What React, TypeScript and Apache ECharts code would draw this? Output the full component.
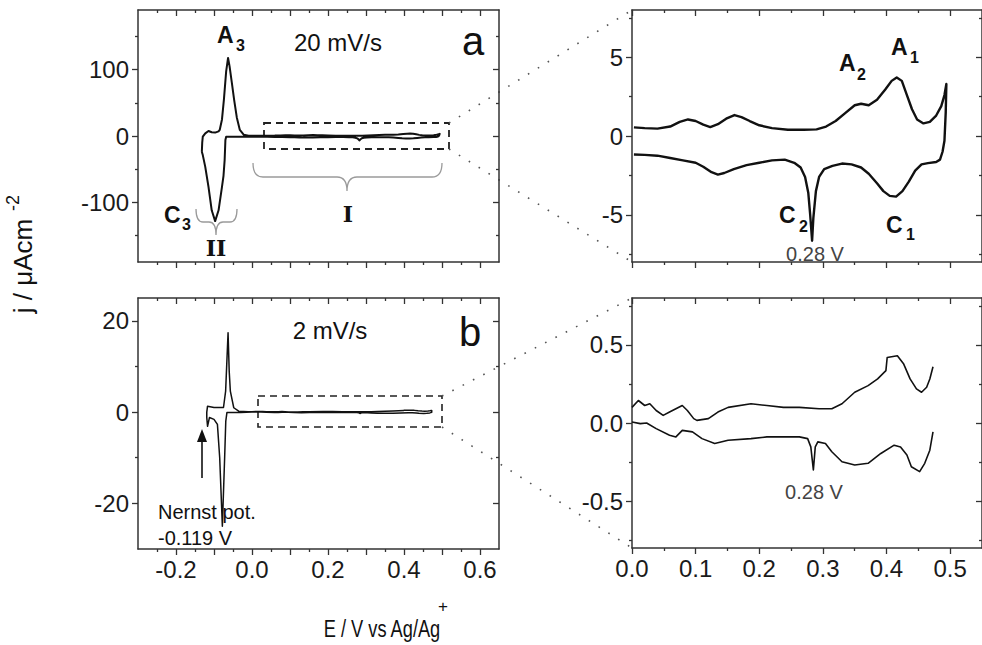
import React, { useEffect, useRef } from 'react';
import * as echarts from 'echarts';

// ---------- data (E / V, j / µA cm^-2) ----------
// panel a, 20 mV/s: parts of the CV outside the zoomed window (E < 0)
const A20_ANODIC_LEFT: number[][] = [
  [-0.132, -23.7], [-0.131, -10], [-0.1295, -1], [-0.123, 4.0], [-0.1145, 7.6], [-0.106, 5.6],
  [-0.097, 5.1], [-0.088, 7.0], [-0.085, 9.1], [-0.079, 25], [-0.074, 54.5], [-0.068, 97.5], [-0.063, 117.7],
  [-0.059, 105], [-0.053, 80], [-0.047, 54.5], [-0.040, 28], [-0.032, 9.1], [-0.022, 2.0], [-0.009, 0.3],
];
const A20_CATHODIC_LEFT: number[][] = [
  [-0.02, -1.0], [-0.068, -1.0], [-0.070, -6], [-0.072, -36.4], [-0.075, -60], [-0.079, -76.8], [-0.088, -112],
  [-0.097, -128.3], [-0.106, -112], [-0.1145, -76.8], [-0.123, -46.5], [-0.1295, -28.8], [-0.132, -23.7],
];
// panel a zoom (0 .. 0.5 V), 20 mV/s
const C20_ANODIC: number[][] = [
  [0.003, 0.55], [0.02, 0.5], [0.04, 0.47], [0.06, 0.6], [0.075, 0.9], [0.088, 1.05], [0.1, 0.95],
  [0.112, 0.72], [0.123, 0.57], [0.135, 0.75], [0.148, 1.1], [0.161, 1.33], [0.172, 1.2], [0.185, 0.95],
  [0.2, 0.68], [0.22, 0.5], [0.245, 0.4], [0.27, 0.4], [0.29, 0.42], [0.305, 0.6], [0.32, 0.95],
  [0.335, 1.45], [0.35, 1.95], [0.36, 2.05], [0.372, 1.95], [0.385, 2.3], [0.398, 2.95], [0.408, 3.5],
  [0.416, 3.72], [0.424, 3.5], [0.432, 2.6], [0.44, 1.7], [0.448, 1.05], [0.458, 0.8], [0.468, 0.9],
  [0.478, 1.3], [0.486, 1.9], [0.491, 2.6], [0.494, 3.3],
];
const C20_CATHODIC: number[][] = [
  [0.493, 1.5], [0.491, -0.3], [0.488, -1.0], [0.484, -1.5], [0.478, -1.65], [0.465, -1.72],
  [0.455, -1.8], [0.445, -2.2], [0.435, -2.9], [0.425, -3.5], [0.415, -3.85], [0.405, -3.8],
  [0.395, -3.5], [0.385, -3.0], [0.372, -2.4], [0.36, -2.0], [0.345, -1.8], [0.33, -1.75],
  [0.315, -1.9], [0.302, -2.1], [0.294, -2.6], [0.289, -3.5], [0.285, -5.2], [0.283, -6.65],
  [0.280, -5.0], [0.277, -3.6], [0.272, -2.6], [0.265, -2.0], [0.255, -1.7], [0.24, -1.5],
  [0.22, -1.55], [0.2, -1.7], [0.18, -1.85], [0.16, -2.1], [0.145, -2.35], [0.135, -2.45],
  [0.125, -2.3], [0.112, -1.95], [0.1, -1.7], [0.08, -1.55], [0.06, -1.4], [0.04, -1.25],
  [0.02, -1.2], [0.003, -1.17],
];
// panel b, 2 mV/s: parts outside the zoomed window
const B2_ANODIC_LEFT: number[][] = [
  [-0.119, 0.0], [-0.117, 1.3], [-0.100, 1.0], [-0.080, 1.0], [-0.075, 1.0], [-0.0694, 4.6],
  [-0.063, 17.4], [-0.060, 9.0], [-0.057, 4.6], [-0.048, 0.95], [-0.035, 0.2], [-0.01, 0.1],
];
const B2_CATHODIC_LEFT: number[][] = [
  [-0.03, -0.1], [-0.066, -0.1], [-0.069, -2], [-0.072, -10], [-0.078, -25], [-0.085, -10],
  [-0.091, -2.7], [-0.100, -1.6], [-0.112, -1.2], [-0.117, -3.1], [-0.119, -1.2], [-0.119, 0.0],
];
// panel b zoom, 2 mV/s
const D2_ANODIC: number[][] = [
  [0.0, 0.10], [0.010, 0.144], [0.020, 0.112], [0.028, 0.123], [0.038, 0.08], [0.049, 0.049],
  [0.059, 0.07], [0.069, 0.091], [0.079, 0.112], [0.087, 0.08], [0.097, 0.028], [0.102, 0.017],
  [0.120, 0.028], [0.135, 0.07], [0.151, 0.10], [0.187, 0.123], [0.212, 0.112], [0.238, 0.10],
  [0.263, 0.10], [0.294, 0.091], [0.314, 0.091], [0.330, 0.123], [0.350, 0.197], [0.371, 0.239],
  [0.386, 0.282], [0.399, 0.335], [0.401, 0.419], [0.417, 0.430], [0.427, 0.377], [0.437, 0.282],
  [0.447, 0.218], [0.455, 0.197], [0.463, 0.229], [0.468, 0.282], [0.473, 0.36],
];
const D2_CATHODIC: number[][] = [
  [0.0, 0.006], [0.013, -0.004], [0.023, 0.0], [0.038, -0.036], [0.059, -0.078], [0.069, -0.089],
  [0.079, -0.047], [0.095, -0.057], [0.110, -0.10], [0.130, -0.131], [0.151, -0.11], [0.187, -0.10],
  [0.212, -0.089], [0.263, -0.089], [0.276, -0.10], [0.281, -0.153], [0.285, -0.301], [0.288, -0.153],
  [0.292, -0.121], [0.304, -0.131], [0.314, -0.184], [0.330, -0.248], [0.350, -0.269], [0.371, -0.258],
  [0.391, -0.195], [0.412, -0.142], [0.422, -0.153], [0.432, -0.205], [0.439, -0.28], [0.452, -0.311],
  [0.460, -0.258], [0.468, -0.174], [0.473, -0.057],
];

// ---------- ticks ----------
const LEFT_X_LABELS = [-0.2, 0.0, 0.2, 0.4, 0.6];
const LEFT_X_MAJOR = [-0.2, -0.1, 0.0, 0.1, 0.2, 0.3, 0.4, 0.5, 0.6];
const LEFT_X_MINOR = [-0.25, -0.15, -0.05, 0.05, 0.15, 0.25, 0.35, 0.45, 0.55];
const RIGHT_X_LABELS = [0.0, 0.1, 0.2, 0.3, 0.4, 0.5];
const RIGHT_X_MINOR = [0.05, 0.15, 0.25, 0.35, 0.45];
const A_Y_LABELS = [-100, 0, 100];
const A_Y_MINOR = [-150, -50, 50, 150];
const B_Y_LABELS = [-20, 0, 20];
const B_Y_MINOR = [-10, 10];
const C_Y_LABELS = [-5, 0, 5];
const C_Y_MINOR = [-7.5, -2.5, 2.5, 7.5];
const D_Y_LABELS = [-0.5, 0.0, 0.5];
const D_Y_MINOR = [-0.75, -0.25, 0.25, 0.75];

const FONT = 'Liberation Sans, Arial, Helvetica, sans-serif';
const SERIF = 'DejaVu Serif, serif';
const AX = '#333';

function axisSet(dim: 'x' | 'y', grid: number, min: number, max: number,
  majors: number[], minors: number[], labels: number[] | null, fmt: (v: number) => string) {
  const base: any = {
    type: 'value', gridIndex: grid, min, max,
    splitLine: { show: false },
    axisLine: { show: true, onZero: false, lineStyle: { color: AX, width: 1.5 } },
  };
  const pMain = dim === 'x' ? 'bottom' : 'left';
  const pMir = dim === 'x' ? 'top' : 'right';
  const tick = (vals: number[], inside: boolean, len: number) => ({
    show: true, inside, length: len, customValues: vals, lineStyle: { color: AX, width: 1.3 },
  });
  return [
    {
      ...base, position: pMain, axisTick: tick(majors, false, 6),
      axisLabel: labels ? {
        show: true, customValues: labels, formatter: (v: number) => fmt(v),
        fontSize: 24, color: '#1a1a1a', fontFamily: FONT, margin: dim === 'x' ? 8 : 9,
      } : { show: false },
    },
    { ...base, position: pMain, axisLine: { show: false, onZero: false }, axisTick: tick(minors, false, 3), axisLabel: { show: false } },
    { ...base, position: pMir, axisTick: tick(majors, true, 6), axisLabel: { show: false } },
    { ...base, position: pMir, axisLine: { show: false, onZero: false }, axisTick: tick(minors, true, 3), axisLabel: { show: false } },
  ];
}

const f1 = (v: number) => v.toFixed(1);
const f0 = (v: number) => String(Math.round(v));

echarts.graphic.registerShape('braceI', echarts.graphic.extendPath(
  'M253,163 Q253,177 263,177 L337,177 Q347,177 347,191 Q347,177 357,177 L432,177 Q442,177 442,163', {}));
echarts.graphic.registerShape('braceII', echarts.graphic.extendPath(
  'M196,209 Q196,222 203,222 L209,222 Q216,222 216,235 Q216,222 223,222 L230,222 Q237,222 237,209', {}));

function txt(text: string, x: number, y: number, size: number, opts: any = {}) {
  return {
    type: 'text', x, y, rotation: opts.rotation || 0, scaleX: opts.scaleX || 1, z: 10,
    style: {
      text, fontSize: size, fontFamily: opts.family || FONT, fontWeight: opts.bold ? 'bold' : 'normal',
      fill: opts.color || '#111', align: opts.align || 'center', verticalAlign: 'middle',
    },
  };
}

export default function App() {
  const ref = useRef<HTMLDivElement>(null);
  useEffect(() => {
    if (!ref.current) return;
    const chart = echarts.init(ref.current, null, { renderer: 'svg' });
    const grids = [
      { left: 138, top: 10, width: 361, height: 252 },
      { left: 138, top: 298, width: 361, height: 251 },
      { left: 632, top: 10, width: 358, height: 252 },
      { left: 632, top: 298, width: 358, height: 250 },
    ];
    const xAxis = [
      ...axisSet('x', 0, -0.3, 0.65, LEFT_X_MAJOR, LEFT_X_MINOR, null, f1),
      ...axisSet('x', 1, -0.3, 0.65, LEFT_X_MAJOR, LEFT_X_MINOR, LEFT_X_LABELS, f1),
      ...axisSet('x', 2, 0, 0.55, RIGHT_X_LABELS, RIGHT_X_MINOR, null, f1),
      ...axisSet('x', 3, 0, 0.55, RIGHT_X_LABELS, RIGHT_X_MINOR, RIGHT_X_LABELS, f1),
    ];
    const yAxis = [
      ...axisSet('y', 0, -190, 190, A_Y_LABELS, A_Y_MINOR, A_Y_LABELS, f0),
      ...axisSet('y', 1, -30, 25, B_Y_LABELS, B_Y_MINOR, B_Y_LABELS, f0),
      ...axisSet('y', 2, -8, 8, C_Y_LABELS, C_Y_MINOR, C_Y_LABELS, f0),
      ...axisSet('y', 3, -0.8, 0.8, D_Y_LABELS, D_Y_MINOR, D_Y_LABELS, f1),
    ];
    const line = (g: number, data: number[][], w: number) => ({
      type: 'line', xAxisIndex: 4 * g, yAxisIndex: 4 * g, data, showSymbol: false, symbol: 'none',
      lineStyle: { color: '#111', width: w, join: 'round' }, silent: true,
    });
    const loopA = [...A20_ANODIC_LEFT, ...C20_ANODIC, ...C20_CATHODIC, ...A20_CATHODIC_LEFT];
    const loopB = [...B2_ANODIC_LEFT, ...D2_ANODIC, ...D2_CATHODIC.slice().reverse(), ...B2_CATHODIC_LEFT];
    const series = [
      line(0, loopA, 2),
      line(1, loopB, 1.5),
      line(2, [...C20_ANODIC, ...C20_CATHODIC], 2.4),
      line(3, D2_ANODIC, 1.6),
      line(3, D2_CATHODIC, 1.6),
    ];
    const dotted = { stroke: '#555', lineWidth: 1.6, lineDash: [1.6, 10] };
    const graphic = [
      // dashed zoom windows
      { type: 'rect', shape: { x: 264, y: 123, width: 185, height: 26 }, style: { fill: 'none', stroke: '#222', lineWidth: 1.8, lineDash: [7, 5] } },
      { type: 'rect', shape: { x: 258, y: 396, width: 184, height: 31 }, style: { fill: 'none', stroke: '#222', lineWidth: 1.6, lineDash: [7, 5] } },
      { type: 'line', shape: { x1: 449, y1: 123, x2: 632, y2: 10 }, style: dotted },
      { type: 'line', shape: { x1: 449, y1: 149, x2: 632, y2: 262 }, style: dotted },
      { type: 'line', shape: { x1: 442, y1: 396, x2: 632, y2: 298 }, style: dotted },
      { type: 'line', shape: { x1: 442, y1: 427, x2: 632, y2: 548 }, style: dotted },
      // braces
      { type: 'braceI', style: { fill: 'none', stroke: '#9a9a9a', lineWidth: 1.3 } },
      { type: 'braceII', style: { fill: 'none', stroke: '#9a9a9a', lineWidth: 1.3 } },
      // arrow
      { type: 'line', shape: { x1: 202, y1: 478, x2: 202, y2: 440 }, style: { stroke: '#111', lineWidth: 1.6 } },
      { type: 'polygon', shape: { points: [[197, 442], [207, 442], [202, 429]] }, style: { fill: '#111' } },
      // texts panel a
      txt('20 mV/s', 338, 42, 24),
      txt('a', 473, 41, 40),
      txt('A', 217, 35, 23, { bold: true, align: 'left' }),
      txt('3', 236, 45, 16, { bold: true, align: 'left' }),
      txt('C', 164, 215, 23, { bold: true, align: 'left' }),
      txt('3', 182, 224, 16, { bold: true, align: 'left' }),
      txt('II', 216, 248, 22, { bold: true, family: SERIF }),
      txt('I', 348, 214, 22, { bold: true, family: SERIF }),
      // panel b
      txt('2 mV/s', 330, 330, 24),
      txt('b', 470, 332, 40),
      txt('Nernst pot.', 158, 512, 20, { align: 'left' }),
      txt('-0.119 V', 158, 538, 20, { align: 'left' }),
      // right panels
      txt('A', 839, 63, 23, { bold: true, align: 'left' }),
      txt('2', 857, 74, 16, { bold: true, align: 'left' }),
      txt('A', 891, 47, 23, { bold: true, align: 'left' }),
      txt('1', 910, 57, 16, { bold: true, align: 'left' }),
      txt('C', 779, 215, 23, { bold: true, align: 'left' }),
      txt('2', 799, 226, 16, { bold: true, align: 'left' }),
      txt('C', 886, 225, 23, { bold: true, align: 'left' }),
      txt('1', 906, 234, 16, { bold: true, align: 'left' }),
      txt('0.28 V', 815, 254, 20, { color: '#444' }),
      txt('0.28 V', 814, 492, 20, { color: '#444' }),
      // axis titles
      txt('E / V vs Ag/Ag', 382, 629, 24, { scaleX: 0.76 }),
      txt('+', 443, 606, 17),
      txt('j / μAcm', 23, 266, 26, { rotation: Math.PI / 2 }),
      txt('-2', 13, 203, 18, { rotation: Math.PI / 2 }),
    ];
    chart.setOption({
      animation: false,
      backgroundColor: '#fff',
      grid: grids,
      xAxis, yAxis, series, graphic,
    });
    return () => chart.dispose();
  }, []);
  return <div ref={ref} style={{ position: 'absolute', left: 0, top: 0, width: 982, height: 645 }} />;
}
